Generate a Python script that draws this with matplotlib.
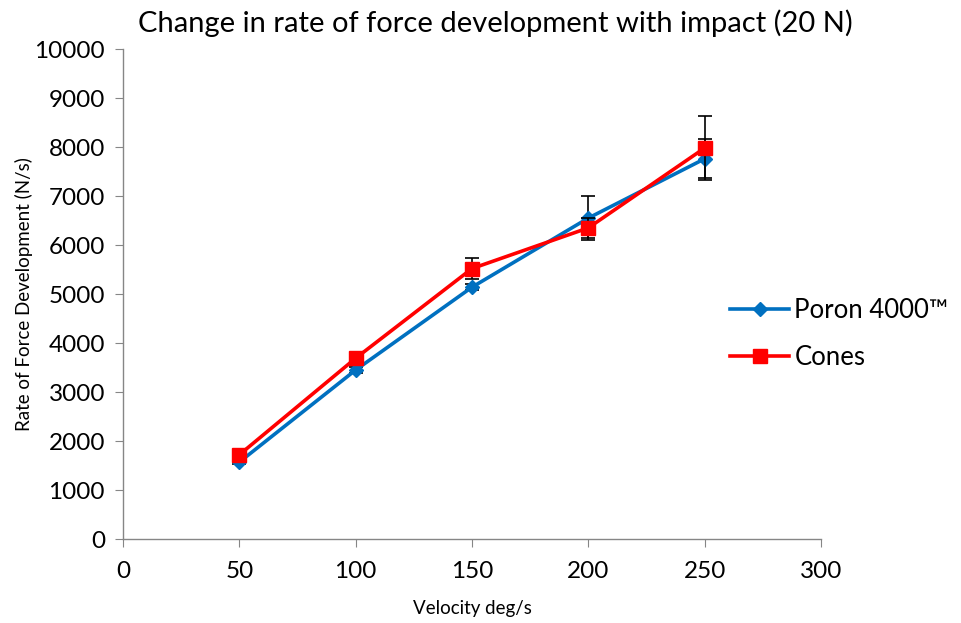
import matplotlib
matplotlib.use("Agg")
import matplotlib.pyplot as plt
from matplotlib.lines import Line2D

velocity = [50, 100, 150, 200, 250]
poron = [1570, 3450, 5140, 6550, 7760]
poron_err = [40, 60, 60, 450, 400]
cones = [1720, 3690, 5520, 6350, 7980]
cones_err = [50, 60, 210, 200, 650]
series_names = ["Poron 4000\u2122", "Cones"]

plt.rcParams['font.family'] = ['Lato', 'DejaVu Sans']

fig = plt.figure(figsize=(9.62, 6.23), dpi=100)
ax = fig.add_axes([0.1279, 0.1348, 0.8534 - 0.1279, 0.9213 - 0.1348])

blue = '#0070C0'
red = '#FF0000'

ax.errorbar(velocity, poron, yerr=poron_err, color=blue, lw=2.6, marker='D',
            markersize=7.5, ecolor='black', elinewidth=1.2, capsize=5, capthick=1.2,
            zorder=3)
ax.errorbar(velocity, cones, yerr=cones_err, color=red, lw=2.6, marker='s',
            markersize=10, ecolor='black', elinewidth=1.2, capsize=5, capthick=1.2,
            zorder=4)

ax.set_xlim(0, 300)
ax.set_ylim(0, 10000)
ax.set_xticks(range(0, 301, 50))
ax.set_yticks(range(0, 10001, 1000))
for s in ['top', 'right']:
    ax.spines[s].set_visible(False)
for s in ['left', 'bottom']:
    ax.spines[s].set_color('#868686')
    ax.spines[s].set_linewidth(1.0)
ax.tick_params(axis='both', direction='out', length=6, color='#868686',
               labelsize=17.5, labelcolor='black')
ax.tick_params(axis='x', pad=10)
ax.tick_params(axis='y', pad=7)

ax.set_xlabel('Velocity deg/s', fontsize=13.5, labelpad=13)
ax.set_ylabel('Rate of Force Development (N/s)', fontsize=13.5, labelpad=1)
fig.text(0.515, 0.962, 'Change in rate of force development with impact (20 N)',
         ha='center', va='center', fontsize=21)

handles = [
    Line2D([], [], color=blue, lw=2.6, marker='D', markersize=7.5),
    Line2D([], [], color=red, lw=2.6, marker='s', markersize=10),
]
leg = fig.legend(handles, series_names, loc='center left',
                 bbox_to_anchor=(0.759, 0.464), bbox_transform=fig.transFigure,
                 frameon=False, fontsize=18.5, handlelength=2.3, labelspacing=0.85,
                 handletextpad=0.2, borderpad=0, borderaxespad=0)

fig.savefig('out.png', dpi=100)
